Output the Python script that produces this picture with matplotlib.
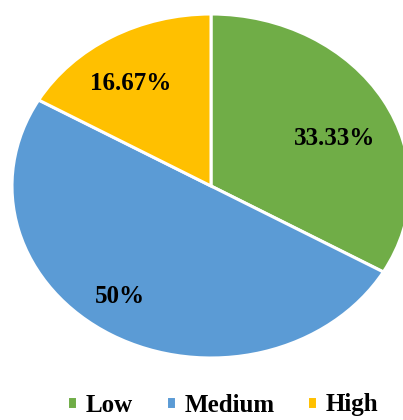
import matplotlib
matplotlib.use("Agg")
import matplotlib.pyplot as plt
import numpy as np

categories = ["Low", "Medium", "High"]
values = [33.33, 50.0, 16.67]
colors = ["#70AD47", "#5B9BD5", "#FFC000"]

W, H = 403, 420
fig = plt.figure(figsize=(W / 100, H / 100), dpi=100)
# Axes spans the (horizontally stretched) pie ellipse
ax = fig.add_axes([12 / W, (H - 358) / H, 398 / W, 344 / H])


def fmt(p):
    s = ("%.2f" % p).rstrip("0").rstrip(".")
    return s + "%"


wedges, texts, autotexts = ax.pie(
    values,
    colors=colors,
    startangle=90,
    counterclock=False,
    autopct=fmt,
    pctdistance=0.73,
    wedgeprops=dict(edgecolor="white", linewidth=2.2),
    textprops=dict(family="Liberation Serif", weight="bold", fontsize=18, color="black"),
)
ax.set_aspect("auto")
ax.set_xlim(-1, 1)
ax.set_ylim(-1, 1)
for w in wedges:
    w.set_clip_on(False)

# fine placement of the percentage labels within each wedge
label_radius = [0.68, 0.79, 0.72]
label_shift = [-6, -5.5, 4]  # degrees relative to wedge mid-angle
for w, t, r, d in zip(wedges, autotexts, label_radius, label_shift):
    mid = np.deg2rad((w.theta1 + w.theta2) / 2 + d)
    t.set_position((r * np.cos(mid), r * np.sin(mid)))

leg = fig.legend(
    wedges, categories,
    loc="center", bbox_to_anchor=(0.553, (H - 405) / H),
    ncol=3, frameon=False,
    prop=dict(family="Liberation Serif", weight="bold", size=18),
    handlelength=0.4, handleheight=0.4, handletextpad=0.35,
    columnspacing=1.3,
    borderpad=0.1,
)

fig.savefig("out.png", dpi=100)
